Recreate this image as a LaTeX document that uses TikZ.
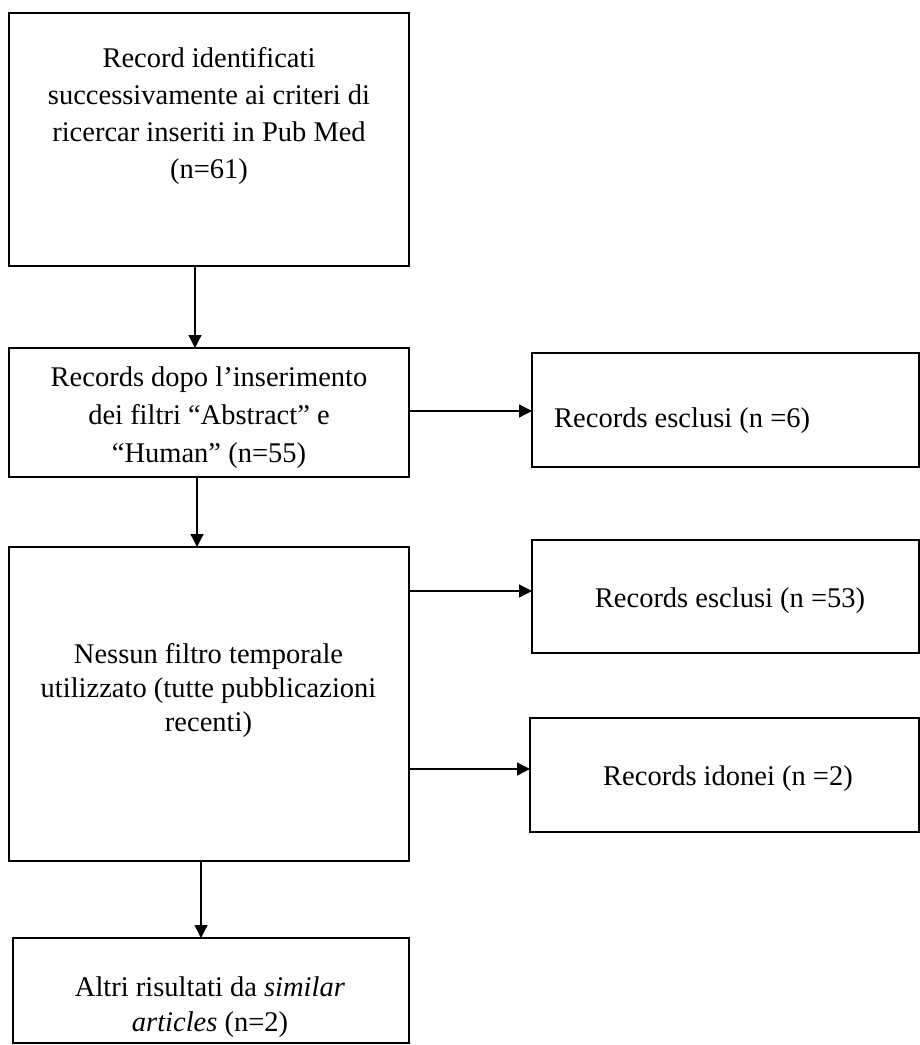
\documentclass[tikz,border=0pt]{standalone}
\usepackage{fontspec}
\setmainfont{Liberation Serif}
\usetikzlibrary{arrows.meta}
\begin{document}
\begin{tikzpicture}[x=1bp,y=-1bp,
  box/.style={draw, line width=2.6bp, inner sep=0pt, outer sep=0pt},
  txt/.style={inner sep=0pt, align=center, font=\fontsize{28.5bp}{37bp}\selectfont},
  arr/.style={-{Triangle[length=13bp,width=13bp]}, line width=1.3bp}]
\useasboundingbox (0,0) rectangle (920,1045);
% boxes
\node[box, minimum width=400bp, minimum height=253bp] (b1) at (209,139.5) {};
\node[box, minimum width=400bp, minimum height=129bp] (b2) at (209,412.5) {};
\node[box, minimum width=387bp, minimum height=114bp] (b3) at (725.5,410) {};
\node[box, minimum width=400bp, minimum height=314bp] (b4) at (209,704) {};
\node[box, minimum width=387bp, minimum height=113bp] (b5) at (725.5,596.5) {};
\node[box, minimum width=389bp, minimum height=114bp] (b6) at (724.5,775) {};
\node[box, minimum width=396bp, minimum height=105bp] (b7) at (211,990.5) {};
% texts
\node[txt] (t1) at (209,116) {Record identificati\\successivamente ai criteri di\\ricercar inseriti in Pub Med\\(n=61)};
\node[txt, font=\fontsize{28.5bp}{38bp}\selectfont] (t2) at (209,418) {Records dopo l’inserimento\\dei filtri “Abstract” e\\“Human” (n=55)};
\node[txt, anchor=base west] (t3) at (554,427) {Records esclusi (n =6)};
\node[txt, font=\fontsize{28.5bp}{34bp}\selectfont] (t4) at (208.5,690) {Nessun filtro temporale\\utilizzato (tutte pubblicazioni\\recenti)};
\node[txt, anchor=base] (t5) at (730,607) {Records esclusi (n =53)};
\node[txt, anchor=base] (t6) at (728,785) {Records idonei (n =2)};
\node[txt, font=\fontsize{28.5bp}{35bp}\selectfont] (t7) at (210,1007.5) {Altri risultati da \textit{similar}\\\textit{articles} (n=2)};
% connector positions
\coordinate (v1) at (195,0);
\coordinate (v2) at (197,0);
\coordinate (v3) at (201,0);
\coordinate (h1) at (0,411);
\coordinate (h2) at (0,591);
\coordinate (h3) at (0,769);
% connectors
\draw[arr] (b1.south -| v1) -- (b2.north -| v1);
\draw[arr] (b2.south -| v2) -- (b4.north -| v2);
\draw[arr] (b4.south -| v3) -- (b7.north -| v3);
\draw[arr] (b2.east |- h1) -- (b3.west |- h1);
\draw[arr] (b4.east |- h2) -- (b5.west |- h2);
\draw[arr] (b4.east |- h3) -- (b6.west |- h3);
\end{tikzpicture}
\end{document}
